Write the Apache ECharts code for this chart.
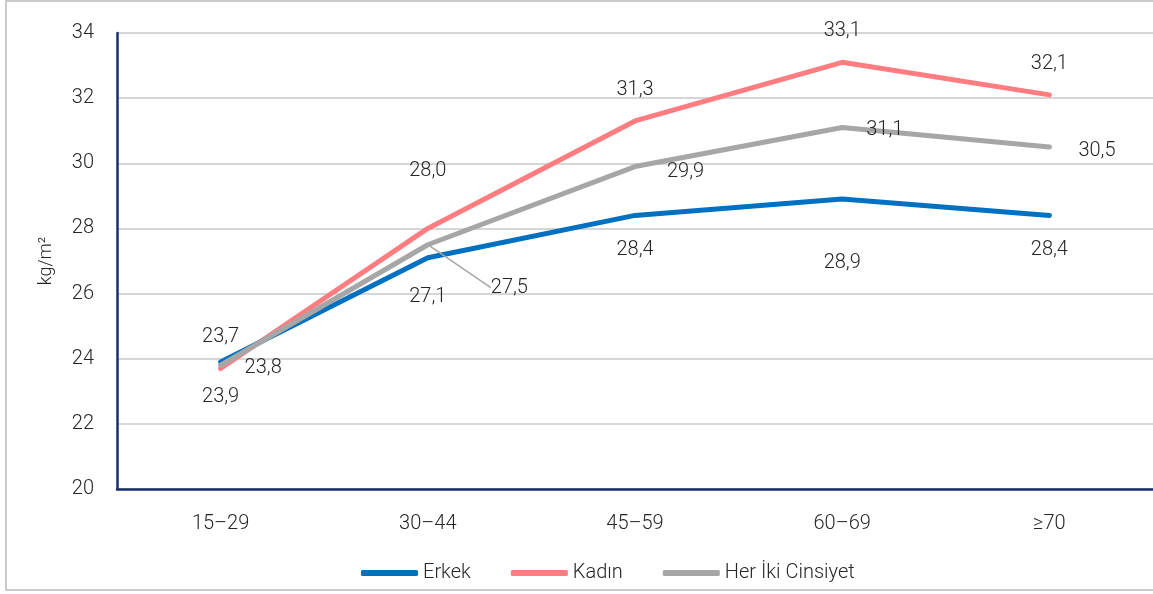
<!DOCTYPE html>
<html>
<head>
<meta charset="utf-8">
<script src="https://cdn.jsdelivr.net/npm/echarts@6/dist/echarts.min.js"></script>
<style>
  html, body { margin: 0; padding: 0; background: #fff; }
  #chart { width: 1153px; height: 594px; }
</style>
</head>
<body>
<div id="chart"></div>
<script>
var categories = ['15–29', '30–44', '45–59', '60–69', '≥70'];
var erkek = [23.9, 27.1, 28.4, 28.9, 28.4];
var kadin = [23.7, 28.0, 31.3, 33.1, 32.1];
var herIki = [23.8, 27.5, 29.9, 31.1, 30.5];
var yTicks = [20, 22, 24, 26, 28, 30, 32, 34];

// label nudges (pixels)
var erkekShift = [[0, 0], [0, 4], [0, 0], [0, 29], [0, 0]];
var kadinShift = [[0, 0], [0, -26], [0, 0], [0, 0], [0, 0]];
var herIkiShift = [[0, 3], [39, 43], [8, 5], [0, 3], [5, 4]];

var font = "Roboto, sans-serif";

function fmt(v) { return v.toFixed(1).replace('.', ','); }

function build(values, shift) {
  return values.map(function (v, i) {
    return { value: v, label: { offset: shift[i] } };
  });
}

var herIkiData = herIki.map(function (v) { return { value: v }; });
// 30-44 label pulled away with a leader line
herIkiData[1].labelLine = { show: true, lineStyle: { color: '#a6a6a6', width: 1.5 } };

var labelBase = { show: true, fontSize: 20, fontWeight: 300, color: '#262626', fontFamily: font,
  formatter: function (p) { return fmt(p.value); } };

var myChart = echarts.init(document.getElementById('chart'));
var option = {
  animation: false,
  textStyle: { fontFamily: font },
  graphic: [{
    type: 'rect',
    shape: { x: 6, y: 1, width: 1160, height: 589 },
    style: { fill: 'none', stroke: '#c9c9c9', lineWidth: 2 },
    silent: true
  }],
  grid: { left: 117, top: 33, width: 1040, height: 456 },
  legend: {
    bottom: 6,
    left: 356,
    itemWidth: 57,
    itemHeight: 6,
    itemGap: 40,
    icon: 'roundRect',
    textStyle: { fontSize: 20, fontWeight: 300, color: '#262626', fontFamily: font },
    data: ['Erkek', 'Kadın', 'Her İki Cinsiyet']
  },
  xAxis: {
    type: 'category',
    data: categories,
    axisLine: { lineStyle: { color: '#14306e', width: 2.5 } },
    axisTick: { show: false },
    axisLabel: { fontSize: 20, fontWeight: 300, color: '#262626', margin: 25, fontFamily: font }
  },
  yAxis: {
    type: 'value',
    min: 20,
    max: 34,
    interval: 2,
    name: 'kg/m²',
    nameLocation: 'middle',
    nameGap: 62,
    nameRotate: 90,
    nameTextStyle: { fontSize: 18, fontWeight: 300, color: '#262626', fontFamily: font },
    axisLine: { show: true, lineStyle: { color: '#14306e', width: 2.5 } },
    axisTick: { show: false },
    axisLabel: {
      fontSize: 20, fontWeight: 300, color: '#262626', margin: 23, fontFamily: font,
      formatter: function (v) { return yTicks.indexOf(v) >= 0 ? String(v) : ''; }
    },
    splitLine: { lineStyle: { color: '#c8c8c8', width: 1.5 } }
  },
  series: [{
    name: 'Erkek',
    type: 'line',
    data: build(erkek, erkekShift),
    symbol: 'circle',
    symbolSize: 0,
    z: 3,
    lineStyle: { color: '#0070c0', width: 5, cap: 'round', join: 'round' },
    itemStyle: { color: '#0070c0' },
    label: Object.assign({ position: 'bottom', distance: 25 }, labelBase)
  }, {
    name: 'Kadın',
    type: 'line',
    data: build(kadin, kadinShift),
    symbol: 'circle',
    symbolSize: 0,
    z: 2,
    lineStyle: { color: '#ff7c80', width: 5, cap: 'round', join: 'round' },
    itemStyle: { color: '#ff7c80' },
    label: Object.assign({ position: 'top', distance: 21 }, labelBase)
  }, {
    name: 'Her İki Cinsiyet',
    type: 'line',
    data: herIkiData,
    symbol: 'circle',
    symbolSize: 0,
    z: 4,
    lineStyle: { color: '#a6a6a6', width: 5, cap: 'round', join: 'round' },
    itemStyle: { color: '#a6a6a6' },
    label: Object.assign({ position: 'right', distance: 24 }, labelBase),
    labelLayout: function (p) {
      var s = herIkiShift[p.dataIndex];
      return { dx: s[0], dy: s[1] };
    }
  }]
};
myChart.setOption(option);
</script>
</body>
</html>
